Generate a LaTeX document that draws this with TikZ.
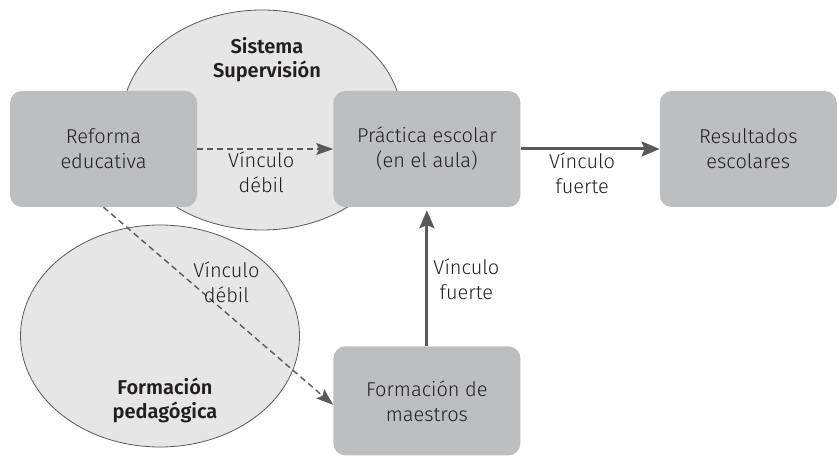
\documentclass[tikz,border=0pt]{standalone}
\usepackage{fontspec}
\setmainfont{Fira Sans Light}[BoldFont={Fira Sans SemiBold}]
\usetikzlibrary{arrows.meta, positioning, shapes.geometric}
\definecolor{BoxGray}{HTML}{BDBEC0}
\definecolor{ZoneGray}{HTML}{E6E6E7}
\definecolor{LinkGray}{HTML}{58595B}
\definecolor{InkGray}{HTML}{231F20}

\begin{document}
\begin{tikzpicture}[>=Stealth, x=1pt, y=-1pt,
    font=\fontsize{20}{25}\selectfont, text=InkGray,
    stage/.style={fill=BoxGray, rounded corners=12pt, minimum width=187pt,
                  minimum height=116pt, align=center, inner sep=0pt},
    zone/.style={ellipse, draw=LinkGray, line width=0.8pt, fill=ZoneGray,
                 inner sep=0pt},
    zonelabel/.style={font=\fontsize{20}{24}\selectfont\bfseries, align=center},
    weak/.style={->, LinkGray, line width=1.4pt, dash pattern=on 6pt off 4pt,
                 -{Stealth[length=17pt, width=12pt, inset=3pt]}},
    strong/.style={->, LinkGray, line width=3pt,
                   -{Stealth[length=18pt, width=15pt, inset=3pt]}},
    linklabel/.style={align=center, inner sep=2pt, text=InkGray}]
  \useasboundingbox (0,0) rectangle (839,457);
  % areas of influence
  \node[zone, minimum width=280pt, minimum height=220pt] (supervision) at (262,120) {};
  \node[zone, minimum width=279pt, minimum height=222pt] (pedagogia) at (160,336) {};
  \node[zonelabel] (supervisionlbl) at (267,60) {Sistema\\Supervisión};
  \node[zonelabel] (pedagogialbl) at (165,400) {Formación\\pedagógica};
  % stages
  \node[stage] (reforma) at (103.5,149) {Reforma\\educativa};
  \node[stage, right=136pt of reforma] (practica) {Práctica escolar\\(en el aula)};
  \node[stage, right=139pt of practica, minimum width=177pt] (resultados) {Resultados\\escolares};
  \node[stage, below=139pt of practica, minimum height=109pt] (maestros) {Formación de\\maestros};
  % links
  \draw[weak] (reforma) -- (practica)
    node[midway, below, xshift=-4pt, linklabel] (lbla) {Vínculo\\débil};
  \draw[strong] (practica) -- (resultados)
    node[midway, below, xshift=-8pt, linklabel] (lblb) {Vínculo\\fuerte};
  \draw[strong, shorten >=3pt] (maestros) -- (practica)
    node[midway, right=3pt, yshift=-3pt, linklabel] (lblc) {Vínculo\\fuerte};
  \draw[weak] (reforma.south) -- ([yshift=-4pt]maestros.west)
    node[pos=0.38, right, linklabel] (lbld) {Vínculo\\débil};
\end{tikzpicture}
\end{document}
